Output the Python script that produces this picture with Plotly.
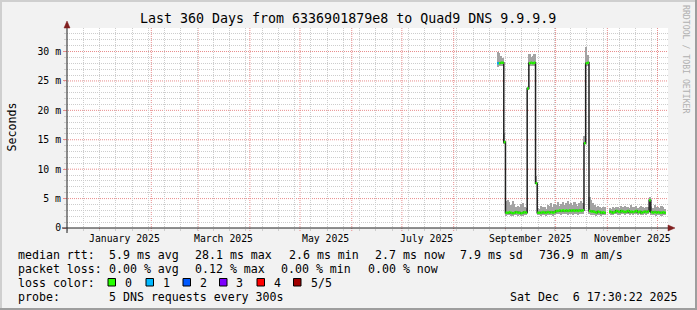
import plotly.graph_objects as go
import pandas as pd

# ---------------- data ----------------
first_day = "2025-08-27"   # first daily bin
# median rtt (ms) per day, None = no data
median_ms = [
    28.0, 28.0, 28.1, 28.1, 14.6,                                   # Aug 27-31
    2.6, 2.6, 2.7, 2.6, 2.5, 2.6, 2.7, 2.6, 2.6, 2.5, 2.6, 2.7, 2.6,  # Sep 1-13
    23.7, 28.0, 28.1, 28.0, 28.1, 7.6,                              # Sep 14-19
    2.6, 2.6, 2.6, 2.7, 2.6, 2.6, 2.7, 2.6, 2.7, 2.6, 2.7,          # Sep 20-30
    2.9, 2.9, 3.0, 2.9, 3.0, 2.9, 3.0, 2.9, 3.0, 2.9, 3.0, 2.9, 3.0, 2.9, 3.0, 2.9, 3.0,  # Oct 1-17
    14.4, 28.0, 28.1,                                               # Oct 18-20
    2.9, 2.8, 2.8, 2.7, 2.6, 2.8, 2.7, 2.6, 2.7, 2.6, None,         # Oct 21-31
    None, 2.8, 2.7, 2.6, 2.7, 2.9, 2.8, 2.7, 2.9, 2.8, 2.7, 2.8, 2.9, 2.7, 2.8,  # Nov 1-15
    2.7, 2.8, 2.9, 2.7, 2.8, 2.6, 2.7, 2.8, 2.7, 2.8, 4.7, 2.7, 2.6, 2.7, 2.6,  # Nov 16-30
    2.7, 2.6, 2.6, 2.7, 2.6,                                        # Dec 1-5
]
smoke_lo_ms = [
    27.3, 27.5, 27.6, 27.6, 14.3,
    2.1, 2.2, 2.2, 2.1, 2.1, 2.2, 2.2, 2.1, 2.2, 2.1, 2.0, 2.2, 2.2,
    23.5, 27.6, 27.6, 27.5, 27.6, 7.4,
    2.2, 2.2, 2.1, 2.2, 2.2, 2.1, 2.2, 2.2, 2.2, 2.1, 2.2,
    2.3, 2.3, 2.3, 2.2, 2.3, 2.3, 2.3, 2.2, 2.3, 2.3, 2.2, 2.3, 2.3, 2.2, 2.3, 2.3, 2.3,
    14.2, 27.6, 27.6,
    2.3, 2.2, 2.2, 2.2, 2.1, 2.2, 2.2, 2.1, 2.2, 2.2, None,
    None, 2.3, 2.2, 2.2, 2.3, 2.3, 2.2, 2.2, 2.3, 2.3, 2.2, 2.3, 2.3, 2.2, 2.3,
    2.2, 2.3, 2.3, 2.2, 2.3, 2.2, 2.2, 2.3, 2.2, 2.3, 2.8, 2.2, 2.2, 2.2, 2.1,
    2.2, 2.2, 2.1, 2.2, 2.2,
]
smoke_hi_ms = [
    30.0, 29.8, 29.2, 28.9, 16.1,
    4.6, 4.7, 4.4, 3.9, 4.6, 4.0, 3.6, 3.7, 3.5, 4.1, 4.3, 3.6, 3.4,
    23.9, 29.5, 29.0, 29.3, 29.6, 8.8,
    3.4, 3.2, 3.8, 3.5, 3.6, 3.3, 3.9, 3.7, 4.2, 3.6, 4.1,
    3.9, 4.4, 3.8, 4.0, 4.5, 3.9, 4.2, 4.6, 4.0, 4.3, 3.9, 4.5, 4.1, 3.8, 4.3, 4.6, 4.2,
    15.6, 30.7, 29.4,
    5.3, 4.7, 4.2, 3.9, 3.6, 3.8, 3.5, 3.4, 3.6, 3.5, None,
    None, 3.4, 3.3, 3.5, 3.4, 3.6, 3.5, 3.4, 3.7, 3.5, 3.8, 3.6, 3.5, 3.4, 3.9,
    3.6, 3.5, 3.7, 3.4, 3.6, 3.8, 3.5, 3.4, 3.6, 3.5, 5.2, 3.6, 3.4, 3.9, 3.5,
    3.6, 3.4, 3.7, 3.5, 3.3,
]
# packet loss level per day (number of lost of 5 requests)
loss_level = [1] + [0] * 100

loss_names = ["0", "1", "2", "3", "4", "5/5"]
loss_colors = ["#26ff00", "#00b8ff", "#0059ff", "#7e00ff", "#ff0000", "#a10000"]

y_tick_vals = [0, 5, 10, 15, 20, 25, 30]
y_tick_text = ["0", "5 m", "10 m", "15 m", "20 m", "25 m", "30 m"]
y_minor_vals = [1, 2, 3, 4, 6, 7, 8, 9, 11, 12, 13, 14, 16, 17, 18, 19,
                21, 22, 23, 24, 26, 27, 28, 29, 31, 32, 33]
month_starts = ["2025-01-01", "2025-02-01", "2025-03-01", "2025-04-01", "2025-05-01", "2025-06-01",
                "2025-07-01", "2025-08-01", "2025-09-01", "2025-10-01", "2025-11-01", "2025-12-01"]
x_label_dates = ["2025-01-16", "2025-03-16", "2025-05-16", "2025-07-16", "2025-09-16", "2025-11-16"]
x_label_text = ["January 2025", "March 2025", "May 2025", "July 2025", "September 2025", "November 2025"]

title_text = "Last 360 Days from 6336901879e8 to Quad9 DNS 9.9.9.9"
rtt_stats = ["median rtt:", "5.9 ms avg", "28.1 ms max", "2.6 ms min", "2.7 ms now", "7.9 ms sd", "736.9 m am/s"]
loss_stats = ["packet loss:", "0.00 % avg", "0.12 % max", "0.00 % min", "0.00 % now"]
probe_text = ["probe:", "5 DNS requests every 300s"]
stamp_text = "Sat Dec\u00a0\u00a06 17:30:22 2025"

x_range = ["2024-12-12 13:00", "2025-12-07 07:00"]
y_range = [0, 34]
minor_x_start = "2024-12-22 10:00"
minor_x_step_days = 9.72

# ---------------- geometry helpers ----------------
W, H = 697, 310
L, R, T, B = 67, 29, 28, 82
PW, PH = W - L - R, H - T - B


def PX(x):
    return (x - L) / PW


def PY(y):
    return (H - B - y) / PH


MONO = "DejaVu Sans Mono"
GRID = "#cdcdcd"
MGRID = "#e88c8c"
AXIS = "#1f1f1f"
ARROW = "#801f1f"
DASH = "1px,1px"

days = pd.date_range(first_day, periods=len(median_ms), freq="D")
one_day = pd.Timedelta(days=1)

fig = go.Figure()

# helper trace so the overlay (minor grid) axes exist
fig.add_trace(go.Scatter(x=[x_range[0]], y=[0], mode="lines", xaxis="x2", yaxis="y2",
                         hoverinfo="skip", line=dict(width=0)))

# smoke (min..max band per bin)
bx, bbase, bh = [], [], []
for d, lo, hi in zip(days, smoke_lo_ms, smoke_hi_ms):
    if lo is None or hi is None:
        continue
    bx.append(d + one_day / 2)
    bbase.append(lo)
    bh.append(hi - lo)
fig.add_trace(go.Bar(x=bx, y=bh, base=bbase, width=86400000,
                     marker=dict(color="#a3a3a3", line=dict(width=0)),
                     hoverinfo="skip"))

# black median line with vertical transitions
lx, ly = [], []
n = len(median_ms)
for i in range(n):
    m = median_ms[i]
    if m is None:
        continue
    s, e = days[i], days[i] + one_day
    lx += [s, e]
    ly += [m, m]
    if i + 1 < n and median_ms[i + 1] is not None:
        lx += [e]
        ly += [median_ms[i + 1]]
    else:
        lx.append(None)
        ly.append(None)
fig.add_trace(go.Scatter(x=lx, y=ly, mode="lines",
                         line=dict(color="#202020", width=1.5),
                         connectgaps=False, hoverinfo="skip"))

# loss coloured median segments
for lvl, col in enumerate(loss_colors):
    gx, gy = [], []
    for i in range(n):
        if median_ms[i] is None or loss_level[i] != lvl:
            continue
        gx += [days[i], days[i] + one_day, None]
        gy += [median_ms[i], median_ms[i], None]
    if gx:
        fig.add_trace(go.Scatter(x=gx, y=gy, mode="lines",
                                 line=dict(color=col, width=2.5),
                                 connectgaps=False, hoverinfo="skip"))

shapes = []
# major vertical grid (month starts) and ticks
for d in month_starts:
    shapes.append(dict(type="line", xref="x", yref="paper", x0=d, x1=d, y0=PY(231), y1=1,
                       line=dict(color=MGRID, width=1, dash=DASH), layer="below"))
# major horizontal grid
for v in y_tick_vals[1:]:
    shapes.append(dict(type="line", xref="paper", yref="y", x0=PX(64), x1=1, y0=v, y1=v,
                       line=dict(color=MGRID, width=1, dash=DASH), layer="below"))
# 3D border
shapes.append(dict(type="rect", xref="paper", yref="paper", x0=PX(0), x1=PX(W), y0=PY(0), y1=PY(2),
                   fillcolor="#cfcfcf", line=dict(width=0), layer="below"))
shapes.append(dict(type="rect", xref="paper", yref="paper", x0=PX(0), x1=PX(2), y0=PY(0), y1=PY(H),
                   fillcolor="#cfcfcf", line=dict(width=0), layer="below"))
shapes.append(dict(type="rect", xref="paper", yref="paper", x0=PX(W - 2), x1=PX(W), y0=PY(0), y1=PY(H),
                   fillcolor="#9e9e9e", line=dict(width=0), layer="below"))
shapes.append(dict(type="rect", xref="paper", yref="paper", x0=PX(0), x1=PX(W), y0=PY(H - 2), y1=PY(H),
                   fillcolor="#9e9e9e", line=dict(width=0), layer="below"))
# axes
shapes.append(dict(type="line", xref="paper", yref="paper", x0=PX(62), x1=PX(672), y0=0, y1=0,
                   line=dict(color=AXIS, width=1)))
shapes.append(dict(type="line", xref="paper", yref="paper", x0=0, x1=0, y0=PY(233), y1=PY(24),
                   line=dict(color=AXIS, width=1)))
# arrows
shapes.append(dict(type="path", xref="paper", yref="paper",
                   path=f"M {PX(64)} {PY(28)} L {PX(70)} {PY(28)} L {PX(67)} {PY(21)} Z",
                   fillcolor=ARROW, line=dict(color=ARROW, width=0.5)))
shapes.append(dict(type="path", xref="paper", yref="paper",
                   path=f"M {PX(668)} {PY(225)} L {PX(668)} {PY(231)} L {PX(675)} {PY(228)} Z",
                   fillcolor=ARROW, line=dict(color=ARROW, width=0.5)))

annotations = []


def txt(s, x, y, size=11.6, anchor="left", color="black", family=MONO, angle=0):
    annotations.append(dict(text=s, x=PX(x), y=PY(y), xref="paper", yref="paper",
                            xanchor=anchor, yanchor="middle", showarrow=False,
                            textangle=angle, font=dict(family=family, size=size, color=color)))


# title
txt(title_text, 348, 18.5, size=13.3, anchor="center")
# watermark
txt("RRDTOOL / TOBI OETIKER", 686, 59, size=8.2, anchor="center", color="#b0b0b0", angle=90)
# y unit
txt("Seconds", 11, 127.5, size=11.6, anchor="center", angle=-90)

# x labels (placed on date axis)
for d, s in zip(x_label_dates, x_label_text):
    annotations.append(dict(text=s, x=d, y=PY(238), xref="x", yref="paper",
                            xanchor="center", yanchor="middle", showarrow=False,
                            font=dict(family=MONO, size=9.8, color="black")))

# legend lines
rtt_x = [16, 107, 193, 287, 373, 458, 537]
for s, x in zip(rtt_stats, rtt_x):
    txt(s, x, 254.5)
loss_x = [16, 107, 193, 279, 366]
for s, x in zip(loss_stats, loss_x):
    txt(s, x, 268.5)
txt("loss color:", 16, 282.5)
box_x = [108, 146, 183, 219.5, 257, 293.5]
for bx0, name, col in zip(box_x, loss_names, loss_colors):
    shapes.append(dict(type="rect", xref="paper", yref="paper",
                       x0=PX(bx0), x1=PX(bx0 + 7.5), y0=PY(278.5), y1=PY(286),
                       fillcolor=col, line=dict(color="black", width=1)))
    txt(name, bx0 + 15, 282.5)
txt(probe_text[0], 16, 296.5)
txt(probe_text[1], 107, 296.5)
txt(stamp_text, 680, 296.5, anchor="right")

fig.update_layout(
    width=W, height=H,
    margin=dict(l=L, r=R, t=T, b=B, pad=0),
    paper_bgcolor="#f2f2f2", plot_bgcolor="white",
    showlegend=False, bargap=0, barmode="overlay",
    shapes=shapes, annotations=annotations,
    xaxis=dict(type="date", range=x_range, showticklabels=False, showgrid=False,
               ticks="", zeroline=False, showline=False),
    xaxis2=dict(type="date", range=x_range, overlaying="x", anchor="y", side="bottom",
                tickmode="linear", tick0=minor_x_start, dtick=minor_x_step_days * 86400000,
                showticklabels=False, showgrid=True, gridcolor=GRID, griddash=DASH, gridwidth=1,
                ticks="outside", ticklen=2, tickcolor=GRID, zeroline=False, showline=False),
    yaxis=dict(range=y_range, tickmode="array", tickvals=y_tick_vals, ticktext=y_tick_text,
               showgrid=False, ticks="outside", ticklen=3, tickcolor=MGRID,
               zeroline=False, showline=False,
               tickfont=dict(family=MONO, size=9.8, color="black")),
    yaxis2=dict(range=y_range, overlaying="y", anchor="x", side="left",
                tickmode="array", tickvals=y_minor_vals, showticklabels=False,
                showgrid=True, gridcolor=GRID, griddash=DASH, gridwidth=1,
                ticks="outside", ticklen=2, tickcolor=GRID, zeroline=False, showline=False),
)

fig.write_html("out.html")
